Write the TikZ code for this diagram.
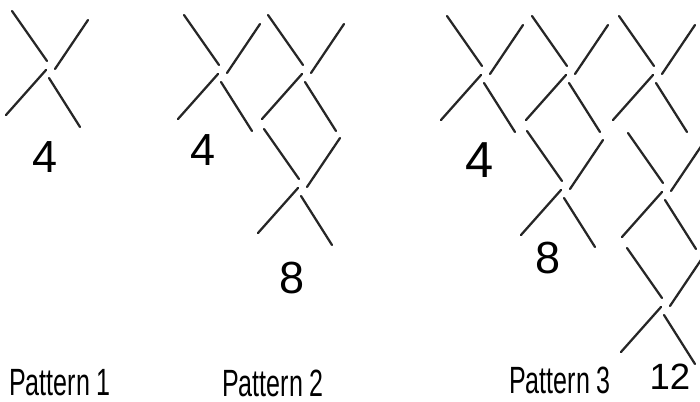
\documentclass[tikz,border=0pt]{standalone}
\usepackage{fontspec}
\setmainfont{Liberation Sans}
\newfontfamily\capfont[FakeStretch=0.66]{Liberation Sans}
\usetikzlibrary{calc}

\begin{document}
\begin{tikzpicture}[x=0.025cm, y=-0.025cm,
        stick/.style = {draw=black!85, line width=1.6pt, line cap=round},
        num/.style = {font=\fontsize{32}{34}\selectfont, inner sep=0pt},
        pattxt/.style = {font=\capfont\fontsize{27}{30}\selectfont, inner sep=0pt}]
    \useasboundingbox (0,0) rectangle (700,402);

    % crossing points
    \coordinate (a1) at (50,68);
    \coordinate (b1) at (222,72);
    \coordinate (b2) at (306,72);
    \coordinate (b3) at (302,186);
    \coordinate (c1) at (485,73);
    \coordinate (c2) at (570,73);
    \coordinate (c3) at (657,73);
    \coordinate (c4) at (565,188);
    \coordinate (c5) at (666,190);
    \coordinate (c6) at (665,305);

    \foreach \c in {a1,b1,b2,b3,c1,c2,c3,c4,c5,c6} {
        \draw[stick] ($(\c)+(-38,-57)$) -- ($(\c)+(-3,-7)$);
        \draw[stick] ($(\c)+(38,-48)$) -- ($(\c)+(5,1)$);
        \draw[stick] ($(\c)+(-4,2)$) -- ($(\c)+(-44,47)$);
        \draw[stick] ($(\c)+(-1,10)$) -- ($(\c)+(30,59)$);
    }

    \node[num] (n1) at (45,157) {4};
    \node[num] (n2) at (203,150) {4};
    \node[num] (n3) at (292,278) {8};
    \node[num, font=\fontsize{36}{38}\selectfont] (n4) at (480,160) {4};
    \node[num] (n5) at (548,258) {8};
    \node[num, font=\fontsize{26}{28}\selectfont] (n6) at (670,377) {12};

    \node[pattxt] (p1) at (60,383) {Pattern 1};
    \node[pattxt] (p2) at (273,383) {Pattern 2};
    \node[pattxt] (p3) at (560,380) {Pattern 3};
\end{tikzpicture}
\end{document}
